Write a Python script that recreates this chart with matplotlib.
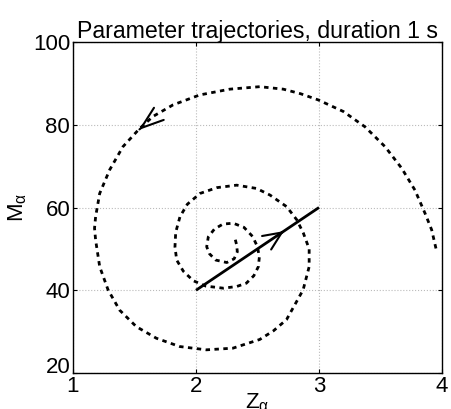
import matplotlib
matplotlib.use("Agg")
import matplotlib.pyplot as plt

plt.rcParams["font.family"] = ["Liberation Sans", "DejaVu Sans"]
plt.rcParams["mathtext.fontset"] = "custom"
plt.rcParams["mathtext.rm"] = "Liberation Sans"
plt.rcParams["mathtext.it"] = "Liberation Sans"
plt.rcParams["mathtext.sf"] = "Liberation Sans"

# spiral trajectory (outer end -> centre)
spiral_z = [3.951, 3.916, 3.862, 3.78, 3.672, 3.537, 3.374, 3.198, 2.994, 2.85,
            2.71, 2.518, 2.274, 2.03, 1.813, 1.65, 1.542, 1.406, 1.298, 1.217,
            1.184, 1.175, 1.184, 1.217, 1.285, 1.379, 1.515, 1.678, 1.867, 2.084,
            2.30, 2.518, 2.63, 2.736, 2.871, 2.92, 2.92, 2.873, 2.82, 2.737,
            2.602, 2.493, 2.331, 2.17, 2.033, 1.93, 1.87, 1.835, 1.829, 1.843,
            1.897, 1.978, 2.08, 2.222, 2.33, 2.409, 2.47, 2.507, 2.515, 2.50,
            2.46, 2.39, 2.303, 2.22, 2.15, 2.10, 2.087, 2.11, 2.16, 2.25,
            2.31, 2.336, 2.33, 2.317]
spiral_m = [50.1, 54.6, 58.6, 64.2, 69.5, 74.7, 79.5, 83.2, 86.0, 87.5,
            88.6, 89.2, 88.6, 87.2, 84.8, 82.0, 79.1, 74.7, 69.1, 63.4,
            57.8, 55.0, 52.1, 45.7, 40.1, 35.2, 31.2, 28.4, 26.4, 25.6,
            26.0, 28.1, 30.2, 32.9, 40.1, 45.7, 50.0, 53.8, 57.0, 60.2,
            63.0, 64.6, 65.4, 64.8, 63.4, 60.8, 57.8, 54.0, 50.5, 47.3,
            44.6, 42.3, 41.0, 40.5, 40.9, 41.7, 43.5, 45.7, 48.0, 50.5,
            53.0, 55.2, 56.2, 56.0, 54.8, 52.9, 50.5, 48.8, 47.3, 46.7,
            47.6, 49.3, 51.0, 52.55]

# straight trajectory
line_z = [2, 3]
line_m = [40, 60]

# arrow markers: tail, tip, head length, head half-width
arrows = [
    ((1.5403, 78.88), (1.534, 78.73), 1.63, 0.56),
    ((2.70, 54.0), (2.715, 54.3), 1.32, 0.585),
]

fig = plt.figure(figsize=(4.51, 4.09), dpi=100)
ax = fig.add_axes([73 / 451, 1 - 373 / 409, 369 / 451, 331 / 409])

ax.plot(spiral_z, spiral_m, color="black", lw=2.0, ls=(0, (1.6, 1.6)))
ax.plot(line_z, line_m, color="black", lw=2.0, solid_capstyle="butt")

for tail, tip, hl, hw in arrows:
    ax.annotate("", xy=tip, xytext=tail,
                arrowprops=dict(arrowstyle=f"->,head_length={hl},head_width={hw}",
                                color="black", lw=1.5, shrinkA=0, shrinkB=0,
                                mutation_scale=10))

ax.set_xlim(1, 4)
ax.set_ylim(20, 100)
ax.set_xticks([1, 2, 3, 4])
ax.set_yticks([20, 40, 60, 80, 100])
ax.grid(True, color="#bbbbbb", ls=":", lw=0.8)
ax.tick_params(direction="in", length=3, width=0.8, labelsize=16, pad=2,
               top=True, right=True)
ax.yaxis.get_major_ticks()[0].label1.set_va("baseline")
for s in ax.spines.values():
    s.set_linewidth(1.0)

ax.set_title("Parameter trajectories, duration 1 s", fontsize=16.7, pad=3)
ax.set_xlabel(r"Z$_{\alpha}$", fontsize=16, labelpad=-4)
ax.set_ylabel(r"M$_{\alpha}$", fontsize=16, labelpad=3)

fig.savefig("out.png", dpi=100)
